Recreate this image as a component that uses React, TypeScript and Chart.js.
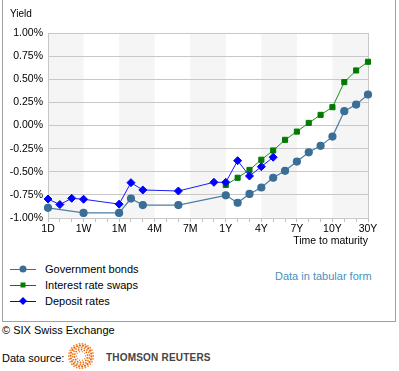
import React, { useEffect, useRef } from "react";
import { Chart, registerables } from "chart.js";

Chart.register(...registerables);

const categories = [
  "1D", "2D", "3D", "1W", "2W", "3W", "1M", "2M", "3M", "4M", "5M", "6M", "7M", "8M",
  "9M", "1Y", "2Y", "3Y", "4Y", "5Y", "6Y", "7Y", "8Y", "9Y", "10Y", "15Y", "20Y", "30Y",
];

const governmentBonds = [
  -0.89, null, null, -0.945, null, null, -0.945, -0.79, -0.86, null, null, -0.86, null, null,
  null, -0.755, -0.835, -0.74, -0.67, -0.565, -0.49, -0.39, -0.29, -0.22, -0.12, 0.155, 0.226, 0.335,
];

const interestRateSwaps = [
  null, null, null, null, null, null, null, null, null, null, null, null, null, null,
  null, -0.643, -0.565, -0.48, -0.37, -0.27, -0.155, -0.066, 0.028, 0.115, 0.198, 0.469, 0.595, 0.689,
];

const depositRates = [
  -0.795, -0.855, -0.787, -0.797, null, null, -0.85, -0.618, -0.697, null, null, -0.708, null, null,
  -0.614, -0.614, -0.38, -0.546, -0.445, -0.343, null, null, null, null, null, null, null, null,
];

const yMin = -1;
const yMax = 1;
const yStep = 0.25;

const FONT = '"Liberation Sans", Arial, Helvetica, sans-serif';

const bandsPlugin = {
  id: "bands",
  beforeDraw(chart: any) {
    const { ctx, chartArea, scales } = chart;
    const x = scales.x;
    ctx.save();
    ctx.fillStyle = "#f5f5f5";
    for (let c = 0; c < 9; c += 2) {
      const x0 = x.getPixelForValue(c * 3);
      const x1 = x.getPixelForValue(c * 3 + 3);
      ctx.fillRect(x0, chartArea.top, x1 - x0, chartArea.bottom - chartArea.top);
    }
    ctx.restore();
  },
  beforeDatasetsDraw(chart: any) {
    const { ctx, chartArea } = chart;
    ctx.save();
    ctx.strokeStyle = "#c8c8c8";
    ctx.lineWidth = 1;
    ctx.beginPath();
    ctx.moveTo(Math.round(chartArea.right) + 0.5, chartArea.top);
    ctx.lineTo(Math.round(chartArea.right) + 0.5, chartArea.bottom);
    ctx.stroke();
    ctx.restore();
  },
};

function Logo() {
  const dots: any[] = [];
  const rings = [
    { r: 4.5, n: 10, s: 0.7 },
    { r: 6.5, n: 14, s: 0.9 },
    { r: 8.5, n: 18, s: 1.0 },
    { r: 10.5, n: 22, s: 1.1 },
    { r: 12.3, n: 26, s: 0.9 },
  ];
  rings.forEach((ring, ri) => {
    for (let i = 0; i < ring.n; i++) {
      const a = (i / ring.n) * Math.PI * 2 + ri * 0.3;
      dots.push(
        <circle
          key={ri + "-" + i}
          cx={13 + ring.r * Math.cos(a)}
          cy={13 + ring.r * Math.sin(a)}
          r={ring.s}
          fill={ri % 2 === 0 ? "#f08a2c" : "#e8661a"}
        />
      );
    }
  });
  return (
    <svg width={26} height={26} style={{ position: "absolute", left: 68, top: 343 }}>
      {dots}
    </svg>
  );
}

function LegendMark({ kind, color, top }: { kind: string; color: string; top: number }) {
  let marker: any = null;
  if (kind === "circle") marker = <circle cx={13} cy={6} r={3.5} fill={color} />;
  if (kind === "square") marker = <rect x={10.5} y={3.5} width={5} height={5} fill={color} />;
  if (kind === "diamond") marker = <polygon points="13,2 17,6 13,10 9,6" fill={color} />;
  return (
    <svg width={28} height={12} style={{ position: "absolute", left: 10, top: top - 6 }}>
      <line x1={0} y1={6.5} x2={26} y2={6.5} stroke={color} strokeWidth={1} />
      {marker}
    </svg>
  );
}

export default function App() {
  const canvasRef = useRef<HTMLCanvasElement | null>(null);

  useEffect(() => {
    document.body.style.margin = "0";
    const canvas = canvasRef.current;
    if (!canvas) return;
    const chart = new Chart(canvas, {
      type: "line",
      data: {
        labels: categories,
        datasets: [
          {
            label: "Government bonds",
            data: governmentBonds,
            borderColor: "#4a7fa5",
            backgroundColor: "#3a6e96",
            pointBackgroundColor: "#3a6e96",
            pointBorderColor: "#3a6e96",
            pointStyle: "circle",
            pointRadius: 3.5,
            borderWidth: 1.2,
            spanGaps: true,
            order: 3,
          },
          {
            label: "Interest rate swaps",
            data: interestRateSwaps,
            borderColor: "#1c901c",
            backgroundColor: "#007a00",
            pointBackgroundColor: "#007a00",
            pointBorderColor: "#007a00",
            pointStyle: "rect",
            pointRadius: 3.6,
            borderWidth: 1,
            spanGaps: true,
            order: 2,
          },
          {
            label: "Deposit rates",
            data: depositRates,
            borderColor: "#1a1aff",
            backgroundColor: "#0000ff",
            pointBackgroundColor: "#0000ff",
            pointBorderColor: "#0000ff",
            pointStyle: "rectRot",
            pointRadius: 4,
            borderWidth: 1,
            spanGaps: true,
            order: 1,
          },
        ] as any,
      },
      options: {
        animation: false,
        responsive: false,
        maintainAspectRatio: false,
        layout: { padding: { left: 0, right: 31, top: 33, bottom: 0 } },
        plugins: {
          legend: { display: false },
          tooltip: { enabled: false },
        },
        scales: {
          x: {
            type: "category",
            offset: false,
            grid: {
              display: true,
              drawOnChartArea: false,
              drawTicks: true,
              tickLength: 4,
              color: "#c0c0c0",
            },
            border: { display: true, color: "#c8c8c8" },
            ticks: {
              autoSkip: false,
              maxRotation: 0,
              padding: 1,
              color: "#000",
              font: { family: FONT, size: 10.5 },
              callback: (_v: any, i: number) => (i % 3 === 0 ? categories[i] : ""),
            },
            title: {
              display: true,
              text: "Time to maturity",
              align: "end",
              color: "#000",
              font: { family: FONT, size: 10.5 },
              padding: { top: 0, bottom: 3 },
            },
            afterFit: (scale: any) => {
              scale.height = 32;
            },
          },
          y: {
            min: yMin,
            max: yMax,
            grid: { color: "#c8c8c8", drawTicks: false },
            border: { display: true, color: "#c8c8c8" },
            ticks: {
              stepSize: yStep,
              padding: 5,
              color: "#000",
              font: { family: FONT, size: 10.5 },
              callback: (v: any) => Number(v).toFixed(2) + "%",
            },
            afterFit: (scale: any) => {
              scale.width = 48;
            },
          },
        },
      } as any,
      plugins: [bandsPlugin],
    });
    return () => chart.destroy();
  }, []);

  const text11 = { position: "absolute" as const, fontSize: 11, lineHeight: "16px", whiteSpace: "nowrap" as const };

  return (
    <div style={{ position: "relative", width: 399, height: 371, fontFamily: FONT, color: "#000", overflow: "hidden" }}>
      <div
        style={{
          position: "absolute",
          left: 2,
          top: 0,
          width: 394,
          height: 322,
          boxSizing: "border-box",
          borderLeft: "1px solid #a0a0a0",
          borderRight: "1px solid #a0a0a0",
          borderBottom: "1px solid #a0a0a0",
        }}
      />
      <canvas ref={canvasRef} width={399} height={250} style={{ position: "absolute", left: 0, top: 0, width: 399, height: 250 }} />
      <div style={{ position: "absolute", left: 10, top: 8, fontSize: 10, lineHeight: "12px" }}>Yield</div>

      <LegendMark kind="circle" color="#3a6e96" top={269} />
      <div style={{ ...text11, left: 45, top: 261 }}>Government bonds</div>
      <LegendMark kind="square" color="#008000" top={285} />
      <div style={{ ...text11, left: 45, top: 277 }}>Interest rate swaps</div>
      <LegendMark kind="diamond" color="#0000ff" top={301} />
      <div style={{ ...text11, left: 45, top: 293 }}>Deposit rates</div>

      <div style={{ ...text11, left: 275, top: 268, color: "#4a90c0" }}>Data in tabular form</div>

      <div style={{ ...text11, left: 2, top: 322 }}>© SIX Swiss Exchange</div>
      <div style={{ ...text11, left: 2, top: 350 }}>Data source:</div>
      <Logo />
      <div style={{ position: "absolute", left: 106, top: 352, fontSize: 10, lineHeight: "12px", fontWeight: "bold", color: "#444", whiteSpace: "nowrap", letterSpacing: 0.2 }}>
        THOMSON REUTERS
      </div>
    </div>
  );
}
